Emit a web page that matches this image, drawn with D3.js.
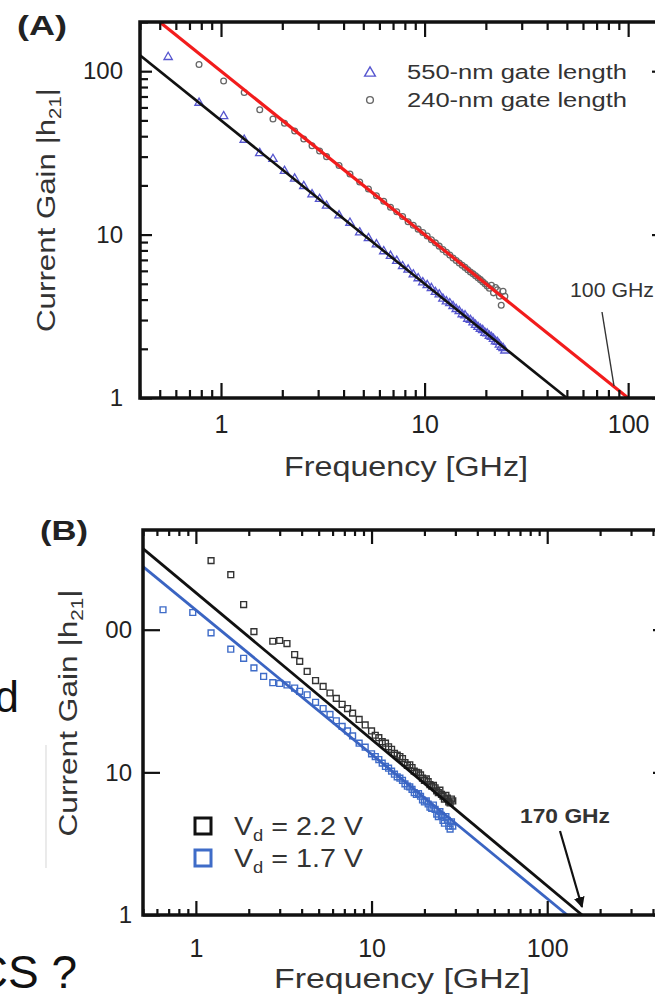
<!DOCTYPE html>
<html>
<head>
<meta charset="utf-8">
<script src="https://cdn.jsdelivr.net/npm/d3@7"></script>
<style>
  body { margin: 0; background: #fff; }
  svg { display: block; font-family: "Liberation Sans", Arial, sans-serif; }
  .tick text { fill: #222; }
</style>
</head>
<body>
<div id="chart"></div>
<script>
// panel A: fT of 550-nm and 240-nm gate graphene FETs
const fA = [0.55, 0.78, 1.03, 1.3, 1.55, 1.8, 2.05, 2.3, 2.55, 2.8, 3.05, 3.3, 3.8, 4.3, 4.8, 5.3,
  5.8, 6.3, 6.8, 7.3, 7.8, 8.3, 8.8, 9.3, 9.8, 10.3, 10.8, 11.3, 11.8, 12.3, 12.8, 13.3, 13.8,
  14.3, 14.8, 15.3, 15.8, 16.3, 16.8, 17.3, 17.8, 18.3, 18.8, 19.3, 19.8, 20.3, 20.8, 21.3, 21.8,
  22.3, 22.8, 23.3, 23.8, 24.3, 24.8];
const gain550 = [122, 64, 53, 38, 31.5, 29, 24.5, 22, 19.8, 17.6, 16.5, 15.0, 13.1, 11.8, 10.3, 9.5,
  8.7, 7.9, 7.4, 6.9, 6.4, 6.1, 5.7, 5.4, 5.1, 4.9, 4.7, 4.45, 4.3, 4.05, 3.9, 3.8, 3.65,
  3.5, 3.4, 3.25, 3.2, 3.05, 3.0, 2.9, 2.8, 2.72, 2.65, 2.6, 2.5, 2.48, 2.4, 2.36, 2.3,
  2.22, 2.2, 2.12, 2.05, 2.02, 1.95];
const gain240 = [null, 110, 87, 74, 58, 51, 48, 43, 38.5, 35, 32.5, 30, 26.5, 23.5, 21, 19,
  17.3, 16, 14.7, 13.8, 12.9, 12, 11.4, 10.8, 10.3, 9.8, 9.3, 8.9, 8.5, 8.1, 7.8, 7.5, 7.2,
  6.95, 6.7, 6.5, 6.3, 6.1, 5.9, 5.75, 5.6, 5.45, 5.3, 5.15, 5.0, 4.85, 4.7, 4.9, 4.4,
  4.75, 4.6, 4.2, 3.7, 4.5, 4.2];
const fitA550 = [[0.4, 125], [50, 1]];
const fitA240 = [[0.5, 200], [100, 1]];

// panel B: two drain biases
const fB = [0.65, 0.96, 1.22, 1.58, 1.87, 2.14, 2.43, 2.74, 3.0, 3.3, 3.65, 3.9, 4.3, 4.8, 5.3, 5.8,
  6.3, 6.8, 7.3, 7.8, 8.5, 9.2, 10, 10.5, 11, 11.5, 12, 12.5, 13, 13.5, 14, 14.5, 15, 15.5,
  16, 16.5, 17, 17.5, 18, 18.5, 19, 19.5, 20, 20.5, 21, 21.5, 22, 22.5, 23, 23.5, 24, 24.5,
  25, 25.5, 26, 26.5, 27, 27.5, 28, 28.5, 29];
const gain22 = [null, null, 305, 243, 150, 97, null, 83, 84, 80, 67, 60, 51, 44, 40, 36,
  33, 30, 28, 26, 23.5, 21.5, 19.5, 18.2, 17.5, 16.4, 16, 15.1, 14.5, 13.6, 13.2, 12.9, 12.5, 11.7,
  11.2, 11.3, 10.8, 10.2, 10, 9.9, 9.6, 9.1, 8.8, 9.0, 8.6, 8.2, 8.0, 8.1, 7.8, 7.4, 7.2, 7.5,
  7.0, 6.8, 6.5, 6.9, 6.6, 6.2, 6.1, 6.5, 6.3];
const gain17 = [138, 132, 95, 73, 63, 54, 47, 42.5, 42, 41, 39, 37, 35, 31, 28, 25.5,
  23, 21, 19.5, 18, 16, 15, 13.5, 12.9, 12.3, 11.6, 11, 10.7, 10.2, 9.7, 9.3, 9.1, 8.8, 8.3,
  8.0, 7.9, 7.6, 7.2, 7.0, 7.1, 6.8, 6.4, 6.2, 6.3, 6.0, 5.7, 5.6, 5.9, 5.5, 5.1, 4.9, 5.3,
  5.0, 4.6, 4.4, 4.9, 4.6, 4.2, 4.0, 4.5, 4.2];
const fitB22 = [[0.5, 370], [158, 1]];
const fitB17 = [[0.5, 277], [130, 1]];

const majorX = [1, 10, 100];
const xLabels = ["1", "10", "100"];
const majorY = [1, 10, 100];
const yLabelsA = ["1", "10", "100"];
const yLabelsB = ["1", "10", "00"];

const W = 655, H = 1000;
const svg = d3.select("#chart").append("svg").attr("width", W).attr("height", H);
const defs = svg.append("defs");
defs.append("marker").attr("id", "arr").attr("viewBox", "0 0 10 10").attr("refX", 9).attr("refY", 5)
  .attr("markerWidth", 5).attr("markerHeight", 5).attr("orient", "auto")
  .append("path").attr("d", "M0,0L10,5L0,10z").attr("fill", "#111");

function frame(g, x, y, o) {
  const [x0, x1] = x.range(), [y0, y1] = y.range();
  const minorX = x.ticks().filter((d) => !majorX.includes(d));
  const minorY = y.ticks().filter((d) => !majorY.includes(d));
  const put = (axis, tx, ty) => {
    const a = g.append("g").attr("transform", `translate(${tx},${ty})`).call(axis);
    a.select(".domain").remove();
    a.selectAll("line").attr("stroke", "#111").attr("stroke-width", 2.2);
    return a;
  };
  // minor ticks
  put(d3.axisBottom(x).tickValues(minorX).tickSize(-o.minor).tickFormat(""), 0, y0);
  put(d3.axisTop(x).tickValues(minorX).tickSize(-o.minor).tickFormat(""), 0, y1);
  if (o.minorY) {
    put(d3.axisLeft(y).tickValues(minorY).tickSize(-o.minor).tickFormat(""), x0, 0);
    put(d3.axisRight(y).tickValues(minorY).tickSize(-o.minor).tickFormat(""), x1, 0);
  }
  // major ticks + labels
  const bx = put(d3.axisBottom(x).tickValues(majorX).tickSize(-o.majorX).tickPadding(o.padX)
    .tickFormat((d, i) => xLabels[i]), 0, y0);
  put(d3.axisTop(x).tickValues(majorX).tickSize(-o.majorX).tickFormat(""), 0, y1);
  const ly = put(d3.axisLeft(y).tickValues(majorY).tickSize(-o.majorY).tickPadding(o.padY)
    .tickFormat((d, i) => o.yLabels[i]), x0, 0);
  put(d3.axisRight(y).tickValues(majorY).tickSize(-o.majorY).tickFormat(""), x1, 0);
  bx.selectAll("text").attr("font-size", 25).attr("font-family", null);
  ly.selectAll("text").attr("font-size", 24).attr("font-family", null);
  g.append("rect").attr("x", x0).attr("y", y1).attr("width", x1 - x0).attr("height", y0 - y1)
    .attr("fill", "none").attr("stroke", "#111").attr("stroke-width", 3.5);
}

function points(g, x, y, xs, ys, sym, size, color, sw) {
  const s = d3.symbol().type(sym).size(size);
  g.append("g").selectAll("path").data(xs.map((f, i) => [f, ys[i]]).filter((d) => d[1] != null))
    .join("path").attr("d", s)
    .attr("transform", (d) => `translate(${x(d[0])},${y(d[1])})`)
    .attr("fill", "none").attr("stroke", color).attr("stroke-width", sw);
}

function fit(g, x, y, data, color, w) {
  g.append("path").datum(data)
    .attr("d", d3.line().x((d) => x(d[0])).y((d) => y(d[1])))
    .attr("fill", "none").attr("stroke", color).attr("stroke-width", w);
}

function yTitle(g, cx, cy, len) {
  const t = g.append("text").attr("transform", `translate(${cx},${cy}) rotate(-90)`)
    .attr("text-anchor", "middle").attr("font-size", 26).attr("fill", "#333")
    .attr("textLength", len).attr("lengthAdjust", "spacingAndGlyphs");
  t.append("tspan").text("Current Gain |h");
  t.append("tspan").attr("font-size", 17).attr("dy", 6).text("21");
  t.append("tspan").attr("dy", -6).text("|");
}

// ---------- panel A ----------
{
  const g = svg.append("g");
  const x = d3.scaleLog().domain([0.4, 150]).range([140, 664]);
  const y = d3.scaleLog().domain([1, 200]).range([398, 22]);
  defs.append("clipPath").attr("id", "clipA").append("rect")
    .attr("x", 140).attr("y", 22).attr("width", 524).attr("height", 376);
  const p = g.append("g").attr("clip-path", "url(#clipA)");
  points(p, x, y, fA, gain550, d3.symbolTriangle, 30, "#5656cf", 1.3);
  points(p, x, y, fA, gain240, d3.symbolCircle, 26, "#666", 1.3);
  fit(p, x, y, fitA550, "#111", 2.6);
  fit(p, x, y, fitA240, "#f21c1c", 3.2);
  frame(g, x, y, { minor: 8, majorX: 15, majorY: 12, padX: 17, padY: 17, minorY: true, yLabels: yLabelsA });

  g.append("text").attr("x", 17).attr("y", 35).attr("font-size", 28).attr("font-weight", "bold")
    .attr("fill", "#222").attr("textLength", 50).attr("lengthAdjust", "spacingAndGlyphs").text("(A)");
  yTitle(g, 55, 210, 244);
  g.append("text").attr("x", 406).attr("y", 476).attr("text-anchor", "middle").attr("font-size", 27)
    .attr("fill", "#333").attr("textLength", 244).attr("lengthAdjust", "spacingAndGlyphs").text("Frequency [GHz]");

  // legend
  g.append("path").attr("d", d3.symbol().type(d3.symbolTriangle).size(50)())
    .attr("transform", "translate(370,73)").attr("fill", "none").attr("stroke", "#5656cf").attr("stroke-width", 1.4);
  g.append("path").attr("d", d3.symbol().type(d3.symbolCircle).size(36)())
    .attr("transform", "translate(370,100)").attr("fill", "none").attr("stroke", "#666").attr("stroke-width", 1.4);
  g.append("text").attr("x", 407).attr("y", 79).attr("font-size", 20).attr("fill", "#333")
    .attr("textLength", 220).attr("lengthAdjust", "spacingAndGlyphs").text("550-nm gate length");
  g.append("text").attr("x", 407).attr("y", 107).attr("font-size", 20).attr("fill", "#333")
    .attr("textLength", 220).attr("lengthAdjust", "spacingAndGlyphs").text("240-nm gate length");

  g.append("text").attr("x", 570).attr("y", 297).attr("font-size", 20).attr("fill", "#333")
    .attr("textLength", 84).attr("lengthAdjust", "spacingAndGlyphs").text("100 GHz");
  g.append("line").attr("x1", 602).attr("y1", 312).attr("x2", 614).attr("y2", 386)
    .attr("stroke", "#333").attr("stroke-width", 1.4);
}

// ---------- panel B ----------
{
  const g = svg.append("g");
  const x = d3.scaleLog().domain([0.5, 500]).range([143, 670]);
  const y = d3.scaleLog().domain([1, 500]).range([915, 530]);
  defs.append("clipPath").attr("id", "clipB").append("rect")
    .attr("x", 143).attr("y", 530).attr("width", 527).attr("height", 385);
  const p = g.append("g").attr("clip-path", "url(#clipB)");
  points(p, x, y, fB, gain17, d3.symbolSquare, 34, "#3f6cc8", 1.4);
  points(p, x, y, fB, gain22, d3.symbolSquare, 34, "#333", 1.4);
  fit(p, x, y, fitB17, "#3a64c2", 2.8);
  fit(p, x, y, fitB22, "#111", 2.8);
  frame(g, x, y, { minor: 6, majorX: 14, majorY: 17, padX: 24, padY: 11, minorY: false, yLabels: yLabelsB });

  g.append("text").attr("x", 40).attr("y", 540).attr("font-size", 28).attr("font-weight", "bold")
    .attr("fill", "#222").attr("textLength", 48).attr("lengthAdjust", "spacingAndGlyphs").text("(B)");
  yTitle(g, 77, 713, 247);
  g.append("line").attr("x1", 46).attr("x2", 46).attr("y1", 745).attr("y2", 868)
    .attr("stroke", "#ddd").attr("stroke-width", 1.2);
  g.append("text").attr("x", 402).attr("y", 988).attr("text-anchor", "middle").attr("font-size", 27)
    .attr("fill", "#333").attr("textLength", 256).attr("lengthAdjust", "spacingAndGlyphs").text("Frequency [GHz]");

  // legend
  const leg = [["2.2", "#111", 826], ["1.7", "#3f6cc8", 858]];
  leg.forEach(([v, c, cy]) => {
    g.append("rect").attr("x", 195).attr("y", cy - 8).attr("width", 16).attr("height", 16)
      .attr("fill", "none").attr("stroke", c).attr("stroke-width", 3);
    const t = g.append("text").attr("x", 234).attr("y", cy + 9).attr("font-size", 25).attr("fill", "#333")
      .attr("textLength", 129).attr("lengthAdjust", "spacingAndGlyphs");
    t.append("tspan").text("V");
    t.append("tspan").attr("font-size", 16).attr("dy", 6).text("d");
    t.append("tspan").attr("dy", -6).text(` = ${v} V`);
  });

  g.append("text").attr("x", 520).attr("y", 823).attr("font-size", 21).attr("font-weight", "bold")
    .attr("fill", "#333").attr("textLength", 90).attr("lengthAdjust", "spacingAndGlyphs").text("170 GHz");
  g.append("line").attr("x1", 560).attr("y1", 831).attr("x2", 582).attr("y2", 907)
    .attr("stroke", "#111").attr("stroke-width", 2.2).attr("marker-end", "url(#arr)");
}

// slide text around the figure (cut at the left edge in the original too)
svg.append("text").attr("x", 19).attr("y", 712).attr("text-anchor", "end").attr("font-size", 44)
  .attr("fill", "#111").text("d");
svg.append("text").attr("x", 77).attr("y", 988).attr("text-anchor", "end").attr("font-size", 46)
  .attr("fill", "#111").text("CS ?");
</script>
</body>
</html>
